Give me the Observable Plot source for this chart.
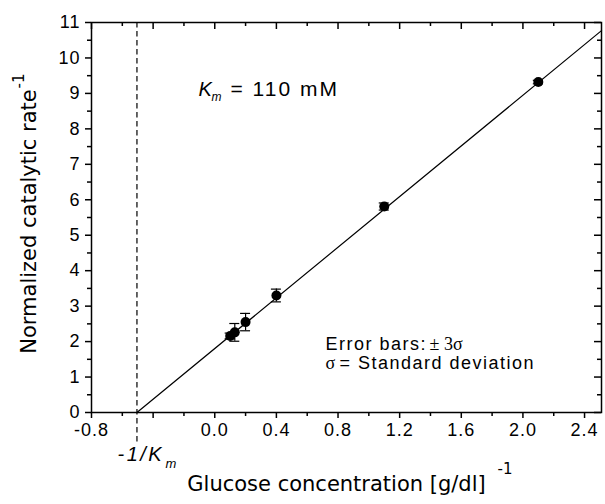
<!DOCTYPE html>
<html>
<head>
<meta charset="utf-8">
<script src="https://cdn.jsdelivr.net/npm/d3@7"></script>
<script src="https://cdn.jsdelivr.net/npm/@observablehq/plot@0.6"></script>
<style>
  body { margin: 0; background: #fff; }
  #chart svg { display: block; }
  g[aria-label="x-axis tick label"] text, g[aria-label="y-axis tick label"] text { letter-spacing: 1px; }
  g[aria-description="spaced"] text { letter-spacing: 1.5px; }
  g[aria-description="km"] text { letter-spacing: 2px; }
  g[aria-description="wide"] text { letter-spacing: 2.5px; }
</style>
</head>
<body>
<div id="chart"></div>
<script>
// ---- data ----
const conc = [0.10, 0.13, 0.20, 0.40, 1.10, 2.10];      // glucose concentration^-1 [g/dl]^-1
const rate = [2.16, 2.26, 2.55, 3.30, 5.81, 9.32];      // normalized catalytic rate^-1
const sigma3 = [0.08, 0.25, 0.245, 0.18, 0.10, 0.05];   // error bar half-length (3 sigma)

const fitX = [-0.505, 2.51];   // fitted line end points
const fitY = [0, 10.77];
const negInvKm = [-0.505];     // -1/Km

const xTicks = [-0.8, -0.4, 0, 0.4, 0.8, 1.2, 1.6, 2.0, 2.4];
const xTickLabels = ["-0.8", "", "0.0", "0.4", "0.8", "1.2", "1.6", "2.0", "2.4"];
const xMinor = [-0.6, -0.2, 0.2, 0.6, 1.0, 1.4, 1.8, 2.2];
const yTicks = [0, 1, 2, 3, 4, 5, 6, 7, 8, 9, 10, 11];
const yTickLabels = ["0", "1", "2", "3", "4", "5", "6", "7", "8", "9", "10", "11"];
const yMinor = [0.5, 1.5, 2.5, 3.5, 4.5, 5.5, 6.5, 7.5, 8.5, 9.5, 10.5];

const xTitle = ["Glucose concentration [g/dl]"];
const yTitle = ["Normalized catalytic rate"];
const supText = ["-1"];
const kmK = ["K"], kmSub = ["m"], kmRest = ["= 110 mM"];
const negLabel = ["-1/K"], negSub = ["m"];
const errLine1 = ["Error bars:"], errLine1b = ["± 3σ"];
const errLine2a = ["σ"], errLine2b = ["= Standard deviation"];

// ---- build ----
const points = conc.map((x, i) => ({x, y: rate[i], e: sigma3[i]}));
const fit = fitX.map((x, i) => ({x, y: fitY[i]}));

const W = 605, H = 504;
const mL = 91, mR = 4, mT = 22, mB = 92;
const plotW = W - mL - mR, plotH = H - mT - mB;
const sans = "Liberation Sans, Arial, sans-serif";
const serif = "Liberation Serif, Times New Roman, serif";
const title = "DejaVu Sans, sans-serif";

const chart = Plot.plot({
  width: W, height: H,
  marginLeft: mL, marginRight: mR, marginTop: mT, marginBottom: mB,
  style: {fontFamily: sans, fontSize: "18px", color: "#000", background: "#fff"},
  x: {domain: [-0.8, 2.51], label: null},
  y: {domain: [0, 11], label: null},
  marks: [
    // axes: bottom & left outward, top & right inward
    Plot.axisX({anchor: "bottom", ticks: xTicks, tickSize: 6, tickPadding: 5, strokeWidth: 1.5,
      tickFormat: d => xTickLabels[xTicks.indexOf(d)], fontSize: 18, label: null}),
    Plot.axisX({anchor: "bottom", ticks: xMinor, tickSize: 4, strokeWidth: 1.5, tickFormat: () => "", label: null}),
    Plot.axisY({anchor: "left", ticks: yTicks, tickSize: 6, tickPadding: 5, strokeWidth: 1.5,
      tickFormat: d => yTickLabels[yTicks.indexOf(d)], fontSize: 18, label: null}),
    Plot.axisY({anchor: "left", ticks: yMinor, tickSize: 4, strokeWidth: 1.5, tickFormat: () => "", label: null}),
    Plot.ruleX(xTicks, {insetBottom: plotH - 7, strokeWidth: 1.5}),
    Plot.ruleX(xMinor, {insetBottom: plotH - 4, strokeWidth: 1.5}),
    Plot.ruleY(yTicks, {insetLeft: plotW - 7, strokeWidth: 1.5}),
    Plot.ruleY(yMinor, {insetLeft: plotW - 4, strokeWidth: 1.5}),
    Plot.frame({stroke: "#000", strokeWidth: 1.5}),

    // -1/Km dashed line
    Plot.ruleX(negInvKm, {strokeDasharray: "5.5,3.5", strokeWidth: 1.2, insetBottom: -31}),
    // fitted line
    Plot.line(fit, {x: "x", y: "y", stroke: "#000", strokeWidth: 1.2}),
    // error bars
    Plot.ruleX(points, {x: "x", y1: d => d.y - d.e, y2: d => d.y + d.e, strokeWidth: 1.2}),
    Plot.ruleY(points, {y: d => d.y - d.e, x1: "x", x2: "x", insetLeft: -5, insetRight: -5, strokeWidth: 1.2}),
    Plot.ruleY(points, {y: d => d.y + d.e, x1: "x", x2: "x", insetLeft: -5, insetRight: -5, strokeWidth: 1.2}),
    // points
    Plot.dot(points, {x: "x", y: "y", r: 5, fill: "#000", stroke: null}),

    // Km annotation
    Plot.text(kmK, {frameAnchor: "top-left", dx: 107, dy: 73, textAnchor: "start", lineAnchor: "bottom", fontSize: 20, fontStyle: "italic"}),
    Plot.text(kmSub, {frameAnchor: "top-left", dx: 120, dy: 78, textAnchor: "start", lineAnchor: "bottom", fontSize: 12, fontStyle: "italic"}),
    Plot.text(kmRest, {frameAnchor: "top-left", dx: 139, dy: 73, textAnchor: "start", lineAnchor: "bottom", fontSize: 21, ariaDescription: "km"}),

    // error-bar note
    Plot.text(errLine1, {frameAnchor: "top-left", dx: 234, dy: 327, textAnchor: "start", lineAnchor: "bottom", fontSize: 18, ariaDescription: "spaced"}),
    Plot.text(errLine1b, {frameAnchor: "top-left", dx: 338, dy: 327, textAnchor: "start", lineAnchor: "bottom", fontSize: 18, fontFamily: serif}),
    Plot.text(errLine2a, {frameAnchor: "top-left", dx: 234, dy: 346, textAnchor: "start", lineAnchor: "bottom", fontSize: 18, fontFamily: serif}),
    Plot.text(errLine2b, {frameAnchor: "top-left", dx: 248, dy: 346, textAnchor: "start", lineAnchor: "bottom", fontSize: 18, ariaDescription: "spaced"}),

    // -1/Km label under axis
    Plot.text(negLabel, {frameAnchor: "bottom-left", dx: 26, dy: 48, textAnchor: "start", lineAnchor: "bottom", fontSize: 20, fontStyle: "italic", ariaDescription: "wide"}),
    Plot.text(negSub, {frameAnchor: "bottom-left", dx: 74, dy: 55, textAnchor: "start", lineAnchor: "bottom", fontSize: 13, fontStyle: "italic"}),

    // axis titles
    Plot.text(xTitle, {frameAnchor: "bottom", dx: -10, dy: 78, textAnchor: "middle", lineAnchor: "bottom", fontSize: 21, fontFamily: title}),
    Plot.text(supText, {frameAnchor: "bottom-left", dx: 406, dy: 61, textAnchor: "start", lineAnchor: "bottom", fontSize: 15, fontFamily: title}),
    Plot.text(yTitle, {frameAnchor: "left", dx: -56, dy: 4, rotate: -90, textAnchor: "middle", lineAnchor: "bottom", fontSize: 21, fontFamily: title}),
    Plot.text(supText, {frameAnchor: "top-left", dx: -68, dy: 66, rotate: -90, textAnchor: "start", lineAnchor: "bottom", fontSize: 15, fontFamily: title})
  ]
});
document.getElementById("chart").appendChild(chart);
</script>
</body>
</html>
